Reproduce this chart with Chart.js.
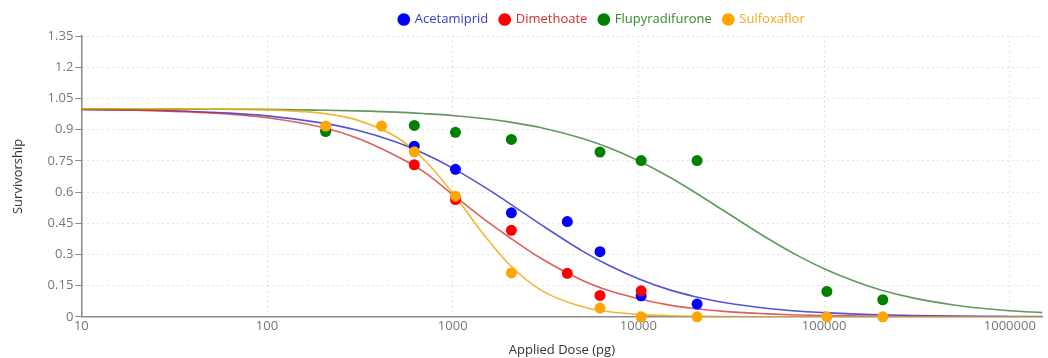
<!DOCTYPE html>
<html>
<head>
<meta charset="utf-8">
<script src="https://cdn.jsdelivr.net/npm/chart.js@4.4.1/dist/chart.umd.min.js"></script>
<style>
  html, body { margin: 0; padding: 0; background: #fff; }
  #wrap { width: 1048px; height: 358px; position: relative; }
</style>
</head>
<body>
<div id="wrap"><canvas id="chart"></canvas></div>
<script>
// ── Data ────────────────────────────────────────────────────────────────────
const seriesNames = ['Acetamiprid', 'Dimethoate', 'Flupyradifurone', 'Sulfoxaflor'];
const seriesColors = ['#0000ff', '#ff0000', '#008000', '#ffa500'];
const lineColors = ['rgba(40,40,200,0.8)', 'rgba(210,40,40,0.75)', 'rgba(40,120,40,0.75)', 'rgba(240,170,20,0.85)'];
const labelColors = ['#3a3ac8', '#d03030', '#2e8b2e', '#f0a820'];

const xTicks = [10, 100, 1000, 10000, 100000, 1000000];
const yTicks = [0, 0.15, 0.3, 0.45, 0.6, 0.75, 0.9, 1.05, 1.2, 1.35];

// observed points
const acetamipridDoses = [621, 1035, 2070, 4140, 6210, 10350, 20700];
const acetamipridSurv  = [0.82, 0.709, 0.50, 0.458, 0.313, 0.101, 0.061];
const dimethoateDoses  = [207, 621, 1035, 2070, 4140, 6210, 10350];
const dimethoateSurv   = [0.892, 0.731, 0.564, 0.416, 0.209, 0.103, 0.125];
const flupyDoses       = [207, 621, 1035, 2070, 6210, 10350, 20700, 103500, 207000];
const flupySurv        = [0.892, 0.92, 0.887, 0.853, 0.792, 0.751, 0.751, 0.122, 0.082];
const sulfoxaflorDoses = [207, 414, 621, 1035, 2070, 6210, 10350, 20700, 103500, 207000];
const sulfoxaflorSurv  = [0.917, 0.917, 0.793, 0.58, 0.211, 0.042, 0, 0, 0, 0];

// fitted curves
const curveDoses = [10, 20, 50, 100, 200, 300, 500, 700, 1000, 1500, 2000, 3000, 5000, 7000,
  10000, 15000, 20000, 30000, 50000, 70000, 100000, 150000, 200000, 300000, 500000, 700000,
  1000000, 1500000];
const acetamipridCurve = [0.997, 0.994, 0.983, 0.966, 0.931, 0.899, 0.839, 0.785, 0.715, 0.621, 0.548, 0.442,
  0.316, 0.245, 0.183, 0.127, 0.098, 0.066, 0.04, 0.028, 0.02, 0.013, 0.0095, 0.0063, 0.0037, 0.0026, 0.0018, 0.0012];
const dimethoateCurve = [0.997, 0.993, 0.98, 0.957, 0.91, 0.862, 0.772, 0.697, 0.588, 0.465, 0.385, 0.28,
  0.175, 0.125, 0.087, 0.055, 0.04, 0.025, 0.014, 0.009, 0.006, 0.004, 0.003, 0.002, 0.001, 0.0006, 0.0004, 0.0003];
const flupyCurve = [1.0, 0.999, 0.998, 0.997, 0.993, 0.99, 0.984, 0.977, 0.968, 0.952, 0.937, 0.909,
  0.857, 0.811, 0.75, 0.667, 0.6, 0.5, 0.375, 0.3, 0.231, 0.167, 0.13, 0.091, 0.057, 0.041, 0.029, 0.02];
const sulfoxaflorCurve = [1.0, 1.0, 0.999, 0.995, 0.978, 0.948, 0.863, 0.756, 0.595, 0.385, 0.255, 0.127,
  0.048, 0.024, 0.0115, 0.005, 0.0027, 0.0012, 0.0004, 0.0002, 0.0001, 0, 0, 0, 0, 0, 0, 0];

// ── Build datasets ──────────────────────────────────────────────────────────
function pts(xs, ys) {
  return xs.map(function (x, i) { return { x: x, y: ys[i] }; });
}

const pointSets = [
  pts(acetamipridDoses, acetamipridSurv),
  pts(dimethoateDoses, dimethoateSurv),
  pts(flupyDoses, flupySurv),
  pts(sulfoxaflorDoses, sulfoxaflorSurv),
];
const curveSets = [acetamipridCurve, dimethoateCurve, flupyCurve, sulfoxaflorCurve]
  .map(function (c) { return pts(curveDoses, c); });

const datasets = [];
pointSets.forEach(function (d, i) {
  datasets.push({
    label: seriesNames[i],
    type: 'scatter',
    data: d,
    showLine: false,
    pointRadius: 5.5,
    pointHoverRadius: 5.5,
    pointBackgroundColor: seriesColors[i],
    pointBorderWidth: 0,
    borderColor: seriesColors[i],
    backgroundColor: seriesColors[i],
    order: 4 - i,   // later series on top
    clip: false,
  });
});
curveSets.forEach(function (d, i) {
  datasets.push({
    label: seriesNames[i] + ' fit',
    type: 'line',
    data: d,
    borderColor: lineColors[i],
    borderWidth: 1.6,
    pointRadius: 0,
    fill: false,
    cubicInterpolationMode: 'monotone',
    order: 10 + (4 - i),
  });
});

// legend sits right of centre in the reference
const legendShift = {
  id: 'legendShift',
  afterLayout: function (chart) {
    if (!chart.legend) return;
    chart.legend.left += 73;
    chart.legend.right += 73;
  }
};

const gridColor = '#c8c8c8';
const axisColor = '#8a8a8a';
const tickFont = { family: '"Open Sans", sans-serif', size: 13 };

new Chart(document.getElementById('chart'), {
  type: 'scatter',
  data: { datasets: datasets },
  plugins: [legendShift],
  options: {
    responsive: true,
    maintainAspectRatio: false,
    animation: false,
    layout: { padding: { left: 10, right: 0, top: 1, bottom: 0 } },
    plugins: {
      tooltip: { enabled: false },
      legend: {
        position: 'top',
        labels: {
          usePointStyle: true,
          pointStyle: 'circle',
          boxWidth: 9,
          boxHeight: 9,
          padding: 12,
          font: { family: '"Open Sans", sans-serif', size: 13 },
          generateLabels: function (chart) {
            return seriesNames.map(function (n, i) {
              return {
                text: n,
                datasetIndex: i,
                fillStyle: seriesColors[i],
                strokeStyle: seriesColors[i],
                lineWidth: 0,
                pointStyle: 'circle',
                fontColor: labelColors[i],
                hidden: false,
              };
            });
          },
        },
      },
    },
    scales: {
      x: {
        type: 'logarithmic',
        min: 10,
        max: 1500000,
        afterBuildTicks: function (axis) {
          axis.ticks = xTicks.map(function (v) { return { value: v }; });
        },
        ticks: {
          color: '#777',
          font: tickFont,
          maxRotation: 0,
          autoSkip: false,
          padding: 2,
          callback: function (v) { return String(v); },
        },
        grid: { color: gridColor, drawTicks: false, tickLength: 4 },
        border: { display: true, color: axisColor, width: 1.5, dash: [1, 4] },
        title: {
          display: true,
          text: 'Applied Dose (pg)',
          color: '#333',
          font: { family: '"Open Sans", sans-serif', size: 13 },
          padding: { top: 6, bottom: 0 },
        },
      },
      y: {
        min: 0,
        max: 1.35,
        afterBuildTicks: function (axis) {
          axis.ticks = yTicks.map(function (v) { return { value: v }; });
        },
        ticks: {
          color: '#777',
          font: tickFont,
          padding: 2,
          callback: function (v) { return String(Math.round(v * 100) / 100); },
        },
        grid: {
          color: function (ctx) { return ctx.tick && ctx.tick.value === 0 ? 'rgba(0,0,0,0)' : gridColor; },
          tickColor: axisColor,
          tickLength: 6,
          tickBorderDash: [],
        },
        border: { display: true, color: axisColor, width: 1.5, dash: [1, 4] },
        title: {
          display: true,
          text: 'Survivorship',
          color: '#333',
          font: { family: '"Open Sans", sans-serif', size: 13 },
          padding: { top: 0, bottom: 20 },
        },
      },
    },
  },
});
</script>
</body>
</html>
